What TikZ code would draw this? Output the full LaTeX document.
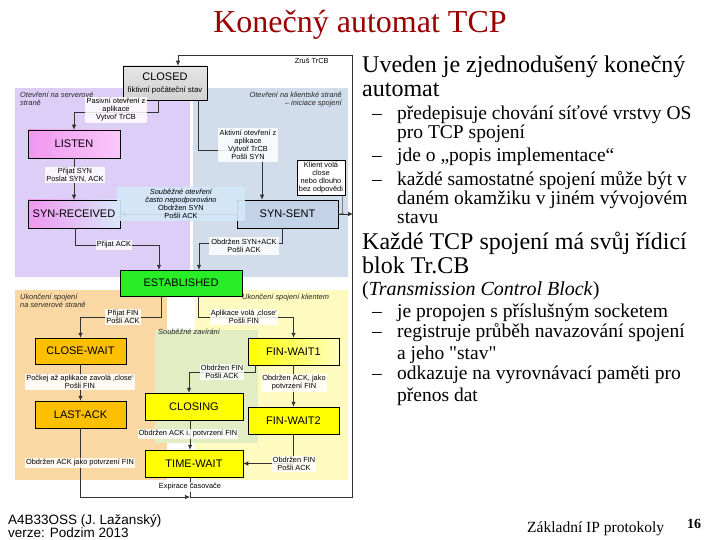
\documentclass[tikz,border=0pt]{standalone}
\usepackage{fontspec}
\setmainfont{Liberation Serif}[Ligatures=TeXOff]
\newfontfamily\arialf{Liberation Sans}
\usetikzlibrary{arrows.meta,calc}
\definecolor{titlered}{RGB}{153,0,0}
\definecolor{regpurple}{RGB}{221,206,248}
\definecolor{regblue}{RGB}{210,221,235}
\definecolor{regorange}{RGB}{250,216,164}
\definecolor{regyellow}{RGB}{255,250,192}
\definecolor{reggreen}{RGB}{226,237,196}
\definecolor{concblue}{RGB}{212,232,248}
\definecolor{stpink}{RGB}{240,150,240}
\definecolor{stpinklight}{RGB}{250,200,250}
\definecolor{stlblue}{RGB}{215,232,250}
\definecolor{stsblue}{RGB}{196,210,232}
\definecolor{stgreen}{RGB}{40,238,40}
\definecolor{storange}{RGB}{252,192,0}
\definecolor{styellow}{RGB}{255,255,0}
\definecolor{stgray}{RGB}{210,210,210}
\begin{document}
\begin{tikzpicture}[x=1pt,y=-1pt,
  statebox/.style={draw=black, line width=0.5pt, inner sep=0pt, font=\arialf\fontsize{11}{13}\selectfont, align=center},
  lbl/.style={fill=white, fill opacity=0.85, text opacity=1, inner sep=1.2pt, font=\arialf\fontsize{7.4}{8}\selectfont, align=center},
  regtxt/.style={font=\arialf\itshape\fontsize{7.4}{8}\selectfont, text=black!85, inner sep=0pt},
  conn/.style={draw=black!80, line width=0.7pt, -{Latex[length=5pt,width=4.5pt]}},
  bodytxt/.style={font=\fontsize{24}{26}\selectfont, anchor=base west, inner sep=0pt},
  subtxt/.style={font=\fontsize{19.5}{21}\selectfont, anchor=base west, inner sep=0pt},
]
\useasboundingbox (0,0) rectangle (720,540);
\fill[white] (0,0) rectangle (720,540);

% title
\node[font=\fontsize{32}{34}\selectfont, text=titlered, anchor=base] (title) at (360,33) {Konečný automat TCP};

% regions
\fill[regpurple] (15,88) rectangle (190,277);
\fill[regblue] (193,88) rectangle (348,277);
\fill[regorange] (15,290) rectangle (167,480);
\fill[regyellow] (195,290) rectangle (348,480);
\fill[reggreen] (155,330) rectangle (258,443);

\node[regtxt, anchor=north west, align=left] (rserv) at (20,92) {Otevření na serverové\\straně};
\node[regtxt, anchor=north east, align=right] (rcli) at (342,92) {Otevření na klientské straně\\– iniciace spojení};
\node[regtxt, anchor=north west, align=left] (rclserv) at (20,294) {Ukončení spojení\\na serverové straně};
\node[regtxt, anchor=north west] (rclcli) at (242,294) {Ukončení spojení klientem};
\node[regtxt, anchor=north west] (rsim) at (158,329) {Souběžné zavírání};

% states
\node[statebox, top color=stgray!60, bottom color=stgray, minimum width=84pt, minimum height=34pt] (closed) at (165,83)
  {CLOSED\\[-1pt]{\fontsize{7.8}{8}\selectfont fiktivní počáteční stav}};
\node[statebox, left color=stpink, right color=stpinklight, minimum width=92pt, minimum height=28pt] (listen) at (74,144) {LISTEN};
\node[statebox, left color=stpink, right color=stlblue, minimum width=92pt, minimum height=28pt] (synrec) at (74,214) {SYN-RECEIVED};
\node[statebox, fill=stsblue, minimum width=101pt, minimum height=28pt] (synsent) at (287.5,214) {SYN-SENT};
\node[statebox, fill=stgreen, minimum width=122pt, minimum height=26pt] (est) at (181,283) {ESTABLISHED};
\node[statebox, fill=storange, minimum width=91pt, minimum height=26pt] (closewait) at (80.5,351) {CLOSE-WAIT};
\node[statebox, fill=storange, minimum width=91pt, minimum height=27pt] (lastack) at (80.5,414.5) {LAST-ACK};
\node[statebox, left color=styellow, right color=styellow!25, minimum width=91pt, minimum height=27pt] (finwait1) at (293.5,351.5) {FIN-WAIT1};
\node[statebox, fill=styellow, minimum width=98pt, minimum height=27pt] (closing) at (194,406.5) {CLOSING};
\node[statebox, fill=styellow, minimum width=91pt, minimum height=27pt] (finwait2) at (293.5,420.5) {FIN-WAIT2};
\node[statebox, fill=styellow, minimum width=98pt, minimum height=27pt] (timewait) at (194,463.5) {TIME-WAIT};

% frame corners
\coordinate (br) at (352,497);
\coordinate (tr) at (352,55);
\coordinate (jn) at (190,497);
\coordinate (ssexit) at (353,214);

% connectors
\draw[conn] ([xshift=-7pt]closed.south) -- ++(0,12) -| (listen.north);
\draw[conn] ([xshift=33pt]closed.south) -- ++(0,50) -| ([xshift=-25.5pt]synsent.north);
\draw[conn] (listen.south) -- (synrec.north);
\draw[conn] (synsent.west) -- (synrec.east);
\draw[conn] ([xshift=1pt]synrec.south) -- ++(0,17) -| ([xshift=-22pt]est.north);
\draw[conn] ([xshift=-5pt]synsent.south) -- ++(0,15) -| ([xshift=18pt]est.north);
\draw[conn] (synsent.east) -- (ssexit);
\draw[conn] ([xshift=-20pt]est.south) -- ++(0,21) -| (closewait.north);
\draw[conn] ([xshift=17pt]est.south) -- ++(0,21) -| (finwait1.north);
\draw[conn] ([xshift=-38.5pt]finwait1.south) -- ++(0,7) -| ([xshift=-5pt]closing.north);
\draw[conn] (finwait1.south) -- (finwait2.north);
\draw[conn] (closewait.south) -- (lastack.north);
\draw[conn] ([xshift=-4pt]closing.south) -- ([xshift=-4pt]timewait.north);
\draw[conn] (finwait2.south) |- (timewait.east);
\draw[conn] (lastack.south) |- (jn);
\draw[conn] ([xshift=-4pt]timewait.south) |- (br) -- (tr) -| ([xshift=13pt]closed.north);

% labels
\node[lbl, inner sep=2pt] (l1) at (116,110) {Pasivní otevření z\\aplikace\\Vytvoř TrCB};
\node[lbl, inner sep=2pt] (l2) at (248,145) {Aktivní otevření z\\aplikace\\Vytvoř TrCB\\Pošli SYN};
\node[lbl] (l3) at (75,175) {Přijat SYN\\Poslat SYN, ACK};
\node[lbl, fill=concblue, fill opacity=0.9, minimum width=128pt, minimum height=34pt] (l4) at (181,204)
  {{\itshape Souběžné otevření}\\{\itshape často nepodporováno}\\Obdržen SYN\\Pošli ACK};
\node[lbl] (l5) at (114,245) {Přijat ACK};
\node[lbl, inner sep=2pt] (l6) at (244,246) {Obdržen SYN+ACK\\Pošli ACK};
\node[lbl, draw=black, line width=0.5pt, fill opacity=1, inner sep=2pt] (klient) at (321,178) {Klient volá\\close\\nebo dlouho\\bez odpovědi};
\draw[gray, line width=0.5pt, -{Bar[width=4pt]}] ([xshift=21pt]klient.south) -- ([xshift=21pt]klient.south |- synsent.east);
\node[lbl, anchor=north east, fill opacity=0] (l0) at (330,57) {Zruš TrCB};
\node[lbl] (l7) at (123,317) {Přijat FIN\\Pošli ACK};
\node[lbl] (l8) at (244,317) {Aplikace volá ‚close‘\\Pošli FIN};
\node[lbl] (l9) at (80,382) {Počkej až aplikace zavolá ‚close‘\\Pošli FIN};
\node[lbl] (l10) at (222,372) {Obdržen FIN\\Pošli ACK};
\node[lbl] (l11) at (294,383) {Obdržen ACK, jako\\potvrzení FIN};
\node[lbl] (l12) at (188,434) {Obdržen ACK i. potvrzení FIN};
\node[lbl] (l13) at (80,463) {Obdržen ACK jako potvrzení FIN};
\node[lbl] (l14) at (294,464) {Obdržen FIN\\Pošli ACK};
\node[lbl] (l15) at (190,487) {Expirace časovače};

% right text
\node[bodytxt] (p1a) at (362,73) {Uveden je zjednodušený konečný};
\node[bodytxt] (p1b) at (362,97) {automat};
\node[subtxt] (d1) at (372,120) {–};
\node[subtxt] (s1a) at (397,120) {předepisuje chování síťové vrstvy OS};
\node[subtxt] (s1b) at (397,139) {pro TCP spojení};
\node[subtxt] (d2) at (372,162) {–};
\node[subtxt] (s2a) at (397,162) {jde o „popis implementace“};
\node[subtxt] (d3) at (372,186) {–};
\node[subtxt] (s3a) at (397,186) {každé samostatné spojení může být v};
\node[subtxt] (s3b) at (397,205) {daném okamžiku v jiném vývojovém};
\node[subtxt] (s3c) at (397,224) {stavu};
\node[bodytxt] (p2a) at (362,249) {Každé TCP spojení má svůj řídicí};
\node[bodytxt] (p2b) at (362,273) {blok Tr.CB};
\node[font=\fontsize{20}{22}\selectfont, anchor=base west, inner sep=0pt] (p3) at (362,295) {(\textit{Transmission Control Block})};
\node[subtxt] (d4) at (372,317) {–};
\node[subtxt] (s4a) at (397,317) {je propojen s příslušným socketem};
\node[subtxt] (d5) at (372,337) {–};
\node[subtxt] (s5a) at (397,337) {registruje průběh navazování spojení};
\node[subtxt] (s5b) at (397,359) {a jeho "stav"};
\node[subtxt] (d6) at (372,379) {–};
\node[subtxt] (s6a) at (397,379) {odkazuje na vyrovnávací paměti pro};
\node[subtxt] (s6b) at (397,401) {přenos dat};

% footer
\node[font=\arialf\fontsize{13.5}{15}\selectfont, anchor=base west, inner sep=0pt] (f1) at (8,524) {A4B33OSS (J. Lažanský)};
\node[font=\arialf\fontsize{13.5}{15}\selectfont, anchor=base west, inner sep=0pt] (f2) at (8,537) {verze: Podzim 2013};
\node[font=\fontsize{15.5}{17}\selectfont, anchor=base west, inner sep=0pt] (f3) at (527,532) {Základní IP protokoly};
\node[font=\bfseries\fontsize{14}{16}\selectfont, anchor=base west, inner sep=0pt] (f4) at (687,528) {16};
\end{tikzpicture}
\end{document}
